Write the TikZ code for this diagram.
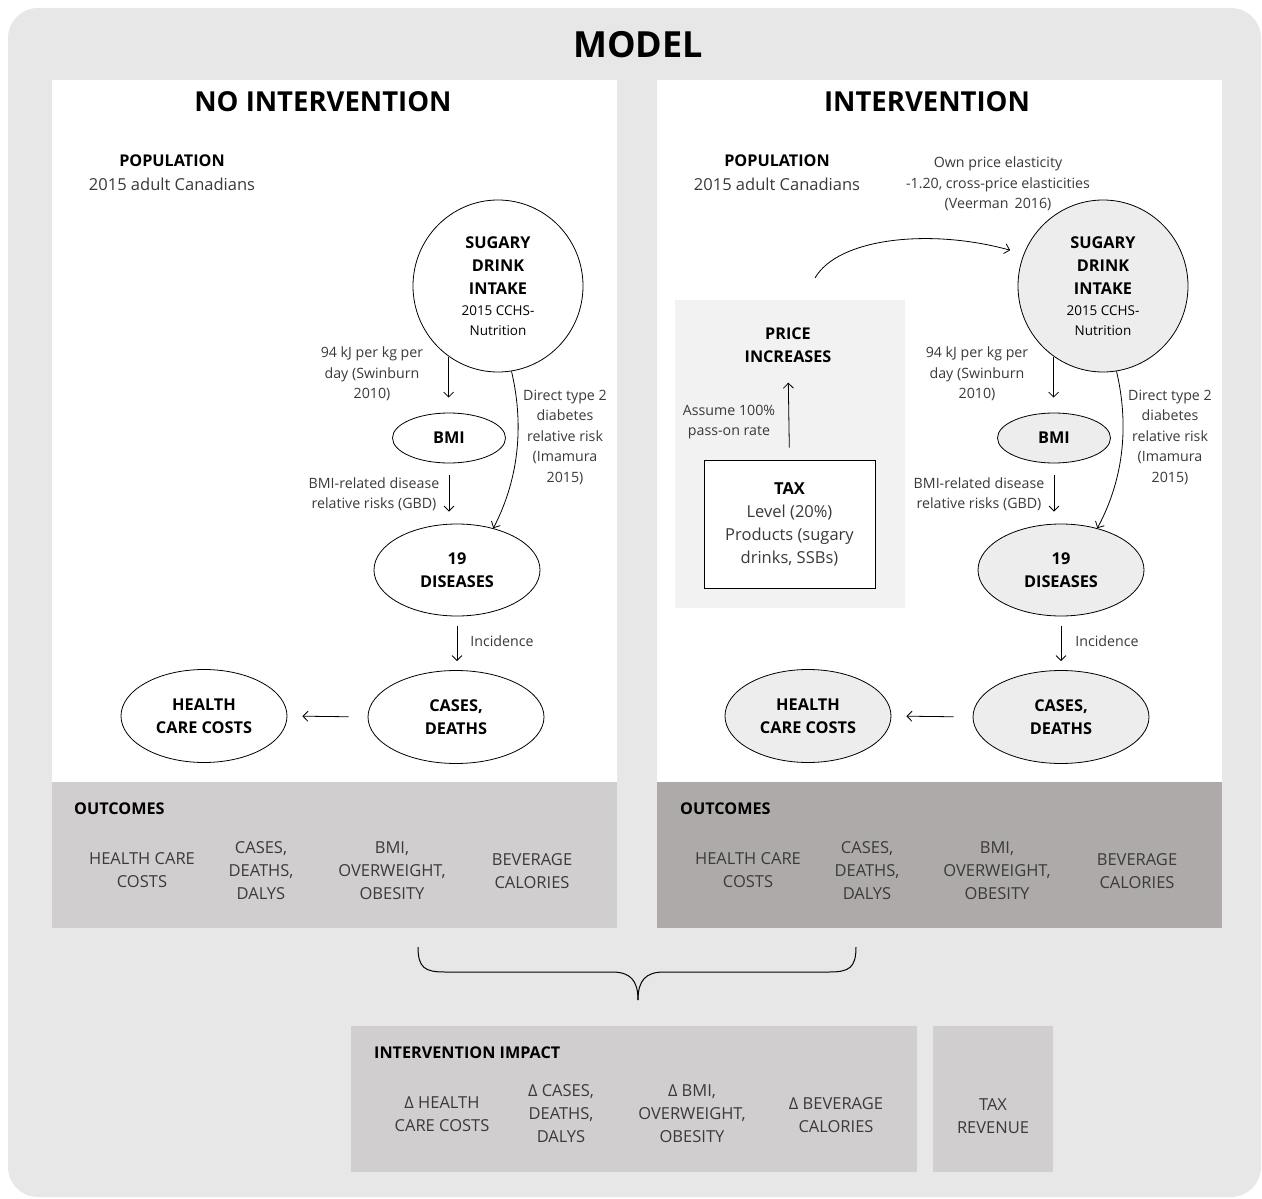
\documentclass[tikz,border=0pt]{standalone}
\usepackage{fontspec}
\setmainfont{Open Sans}
\usetikzlibrary{shapes.geometric,arrows.meta}
\definecolor{bgc}{HTML}{E7E7E7}
\definecolor{outA}{HTML}{D0CECE}
\definecolor{outB}{HTML}{AEAAAA}
\definecolor{pricebg}{HTML}{F2F2F2}
\definecolor{ellfill}{HTML}{EDEDED}
\definecolor{txt}{HTML}{3A3A3A}
\tikzset{
  ell/.style={ellipse, draw, line width=0.8pt, inner sep=0pt, align=center,
    font=\fontsize{16.3}{23}\selectfont\bfseries},
  ellg/.style={ell, fill=ellfill},
  lbl/.style={align=center, font=\fontsize{14.2}{20.5}\selectfont, text=txt, inner sep=0pt},
  body/.style={align=center, font=\fontsize{16.5}{23}\selectfont, text=txt, inner sep=0pt},
  hd/.style={font=\fontsize{16.2}{23}\selectfont\bfseries, inner sep=0pt},
  big/.style={font=\fontsize{27.5}{32}\selectfont\bfseries, inner sep=0pt},
  arr/.style={-{Straight Barb[length=5pt,width=10pt]}, line width=0.8pt}
}
\newcommand{\smalltxt}{\mdseries\fontsize{13.5}{20}\selectfont}
\begin{document}
\begin{tikzpicture}[x=1pt,y=-1pt]
\useasboundingbox (0,0) rectangle (1262,1199);
% outer background
\fill[bgc, rounded corners=30pt] (8,8) rectangle (1261,1197);
\node[font=\fontsize{36}{40}\selectfont\bfseries, inner sep=0pt] (model) at (638,45) {MODEL};
% panels
\fill[white] (52,80) rectangle (617,782);
\fill[white] (657,80) rectangle (1222,782);
\fill[outA] (52,782) rectangle (617,928);
\fill[outB] (657,782) rectangle (1222,928);

% ================= LEFT: NO INTERVENTION =================
\node[big] (tl) at (323,102) {NO INTERVENTION};
\node[hd] (popl) at (172,161) {POPULATION};
\node[body] (popl2) at (172,184) {2015 adult Canadians};

\node[ell, minimum width=170pt, minimum height=172pt] (sdi) at (498,286)
  {SUGARY\\DRINK\\INTAKE\\[-2pt]{\smalltxt 2015 CCHS-}\\[-3pt]{\smalltxt Nutrition}};
\node[ell, minimum width=113pt, minimum height=50pt] (bmi) at (449,438) {BMI};
\node[ell, minimum width=166pt, minimum height=92pt] (dis) at (457,570) {19\\DISEASES};
\node[ell, minimum width=176pt, minimum height=93pt] (cd) at (456,717) {CASES,\\DEATHS};
\node[ell, minimum width=166pt, minimum height=93pt] (hcc) at (204,716) {HEALTH\\CARE COSTS};

\node[lbl] (l1) at (372,374) {94 kJ per kg per\\day (Swinburn\\2010)};
\node[lbl] (l2) at (374,494) {BMI-related disease\\relative risks (GBD)};
\node[lbl] (l3) at (565,437) {Direct type 2\\diabetes\\relative risk\\(Imamura\\2015)};
\node[lbl] (l4) at (502,641) {Incidence};

\draw[arr, shorten >=15pt] (sdi.-125) -- (sdi.-125 |- bmi.north);
\draw[arr, shorten <=12pt, shorten >=12pt] (bmi.south) -- (bmi.south |- dis.north);
\draw[arr] (sdi.-81) .. controls (523,420) and (521,475) .. (dis.49);
\draw[arr, shorten <=10pt, shorten >=9pt] (dis.south) -- (dis.south |- cd.north);
\draw[arr, shorten <=19pt, shorten >=15pt] (cd.west) -- (hcc.east);

% outcomes left
\node[hd, anchor=west] (oa) at (74,809) {OUTCOMES};
\node[body] (oa1) at (142,870) {HEALTH CARE\\COSTS};
\node[body] (oa2) at (261,871) {CASES,\\DEATHS,\\DALYS};
\node[body] (oa3) at (392,871) {BMI,\\OVERWEIGHT,\\OBESITY};
\node[body] (oa4) at (532,871) {BEVERAGE\\CALORIES};

% ================= RIGHT: INTERVENTION =================
\node[big] (tr) at (927,102) {INTERVENTION};
\node[hd] (popr) at (777,161) {POPULATION};
\node[body] (popr2) at (777,184) {2015 adult Canadians};
\node[lbl] (el) at (998,184) {Own price elasticity\\-1.20, cross-price elasticities\\(Veerman\, 2016)};

\node[fill=pricebg, minimum width=230pt, minimum height=308pt, inner sep=0pt, anchor=north west] (pbox) at (675,300) {};
\node[hd, align=center] (pinc) at (788,345) {PRICE\\INCREASES};
\node[draw, fill=white, line width=0.8pt, minimum width=171pt, minimum height=128pt, inner sep=0pt,
  align=center, font=\fontsize{16.5}{23}\selectfont] (tax) at (789.5,524)
  {\textbf{TAX}\\{\color{txt}Level (20\%)}\\{\color{txt}Products (sugary}\\{\color{txt}drinks, SSBs)}};
\node[lbl] (l5) at (729,422) {Assume 100\%\\pass-on rate};
\draw[arr, shorten <=12pt, shorten >=20pt] (tax.north) -- (pinc.south);

\node[ellg, minimum width=170pt, minimum height=172pt] (isdi) at (1103,286)
  {SUGARY\\DRINK\\INTAKE\\[-2pt]{\smalltxt 2015 CCHS-}\\[-3pt]{\smalltxt Nutrition}};
\node[ellg, minimum width=113pt, minimum height=50pt] (ibmi) at (1054,438) {BMI};
\node[ellg, minimum width=166pt, minimum height=92pt] (idis) at (1061,570) {19\\DISEASES};
\node[ellg, minimum width=176pt, minimum height=93pt] (icd) at (1061,717) {CASES,\\DEATHS};
\node[ellg, minimum width=166pt, minimum height=93pt] (ihcc) at (808,716) {HEALTH\\CARE COSTS};

\node[lbl] (r1) at (977,374) {94 kJ per kg per\\day (Swinburn\\2010)};
\node[lbl] (r2) at (979,494) {BMI-related disease\\relative risks (GBD)};
\node[lbl] (r3) at (1170,437) {Direct type 2\\diabetes\\relative risk\\(Imamura\\2015)};
\node[lbl] (r4) at (1107,641) {Incidence};

\coordinate (cs) at (815,278);
\draw[arr, shorten >=14pt] (cs) .. controls (838,238) and (930,228) .. (isdi.158);
\draw[arr, shorten >=15pt] (isdi.-125) -- (isdi.-125 |- ibmi.north);
\draw[arr, shorten <=12pt, shorten >=12pt] (ibmi.south) -- (ibmi.south |- idis.north);
\draw[arr] (isdi.-81) .. controls (1128,420) and (1126,475) .. (idis.49);
\draw[arr, shorten <=10pt, shorten >=9pt] (idis.south) -- (idis.south |- icd.north);
\draw[arr, shorten <=19pt, shorten >=15pt] (icd.west) -- (ihcc.east);

% outcomes right
\node[hd, anchor=west] (ob) at (680,809) {OUTCOMES};
\node[body] (ob1) at (748,870) {HEALTH CARE\\COSTS};
\node[body] (ob2) at (867,871) {CASES,\\DEATHS,\\DALYS};
\node[body] (ob3) at (997,871) {BMI,\\OVERWEIGHT,\\OBESITY};
\node[body] (ob4) at (1137,871) {BEVERAGE\\CALORIES};

% ================= brace =================
\draw[line width=1pt] (418,947) .. controls (418,968) and (425,972) .. (445,972) -- (612,972)
  .. controls (630,972) and (638,980) .. (638,1000);
\draw[line width=1pt] (856,947) .. controls (856,968) and (849,972) .. (829,972) -- (664,972)
  .. controls (646,972) and (638,980) .. (638,1000);

% ================= impact =================
\node[fill=outA, minimum width=566pt, minimum height=146pt, inner sep=0pt, anchor=north west] (imp) at (351,1026) {};
\node[fill=outA, minimum width=120pt, minimum height=146pt, inner sep=0pt, anchor=north west] (trev) at (933,1026) {};
\node[hd, anchor=west] (impt) at (374,1053) {INTERVENTION IMPACT};
\node[body] (i1) at (442,1114) {Δ HEALTH\\CARE COSTS};
\node[body] (i2) at (561,1114) {Δ CASES,\\DEATHS,\\DALYS};
\node[body] (i3) at (692,1114) {Δ BMI,\\OVERWEIGHT,\\OBESITY};
\node[body] (i4) at (836,1115) {Δ BEVERAGE\\CALORIES};
\node[body] (i5) at (993,1116) {TAX\\REVENUE};
\end{tikzpicture}
\end{document}
